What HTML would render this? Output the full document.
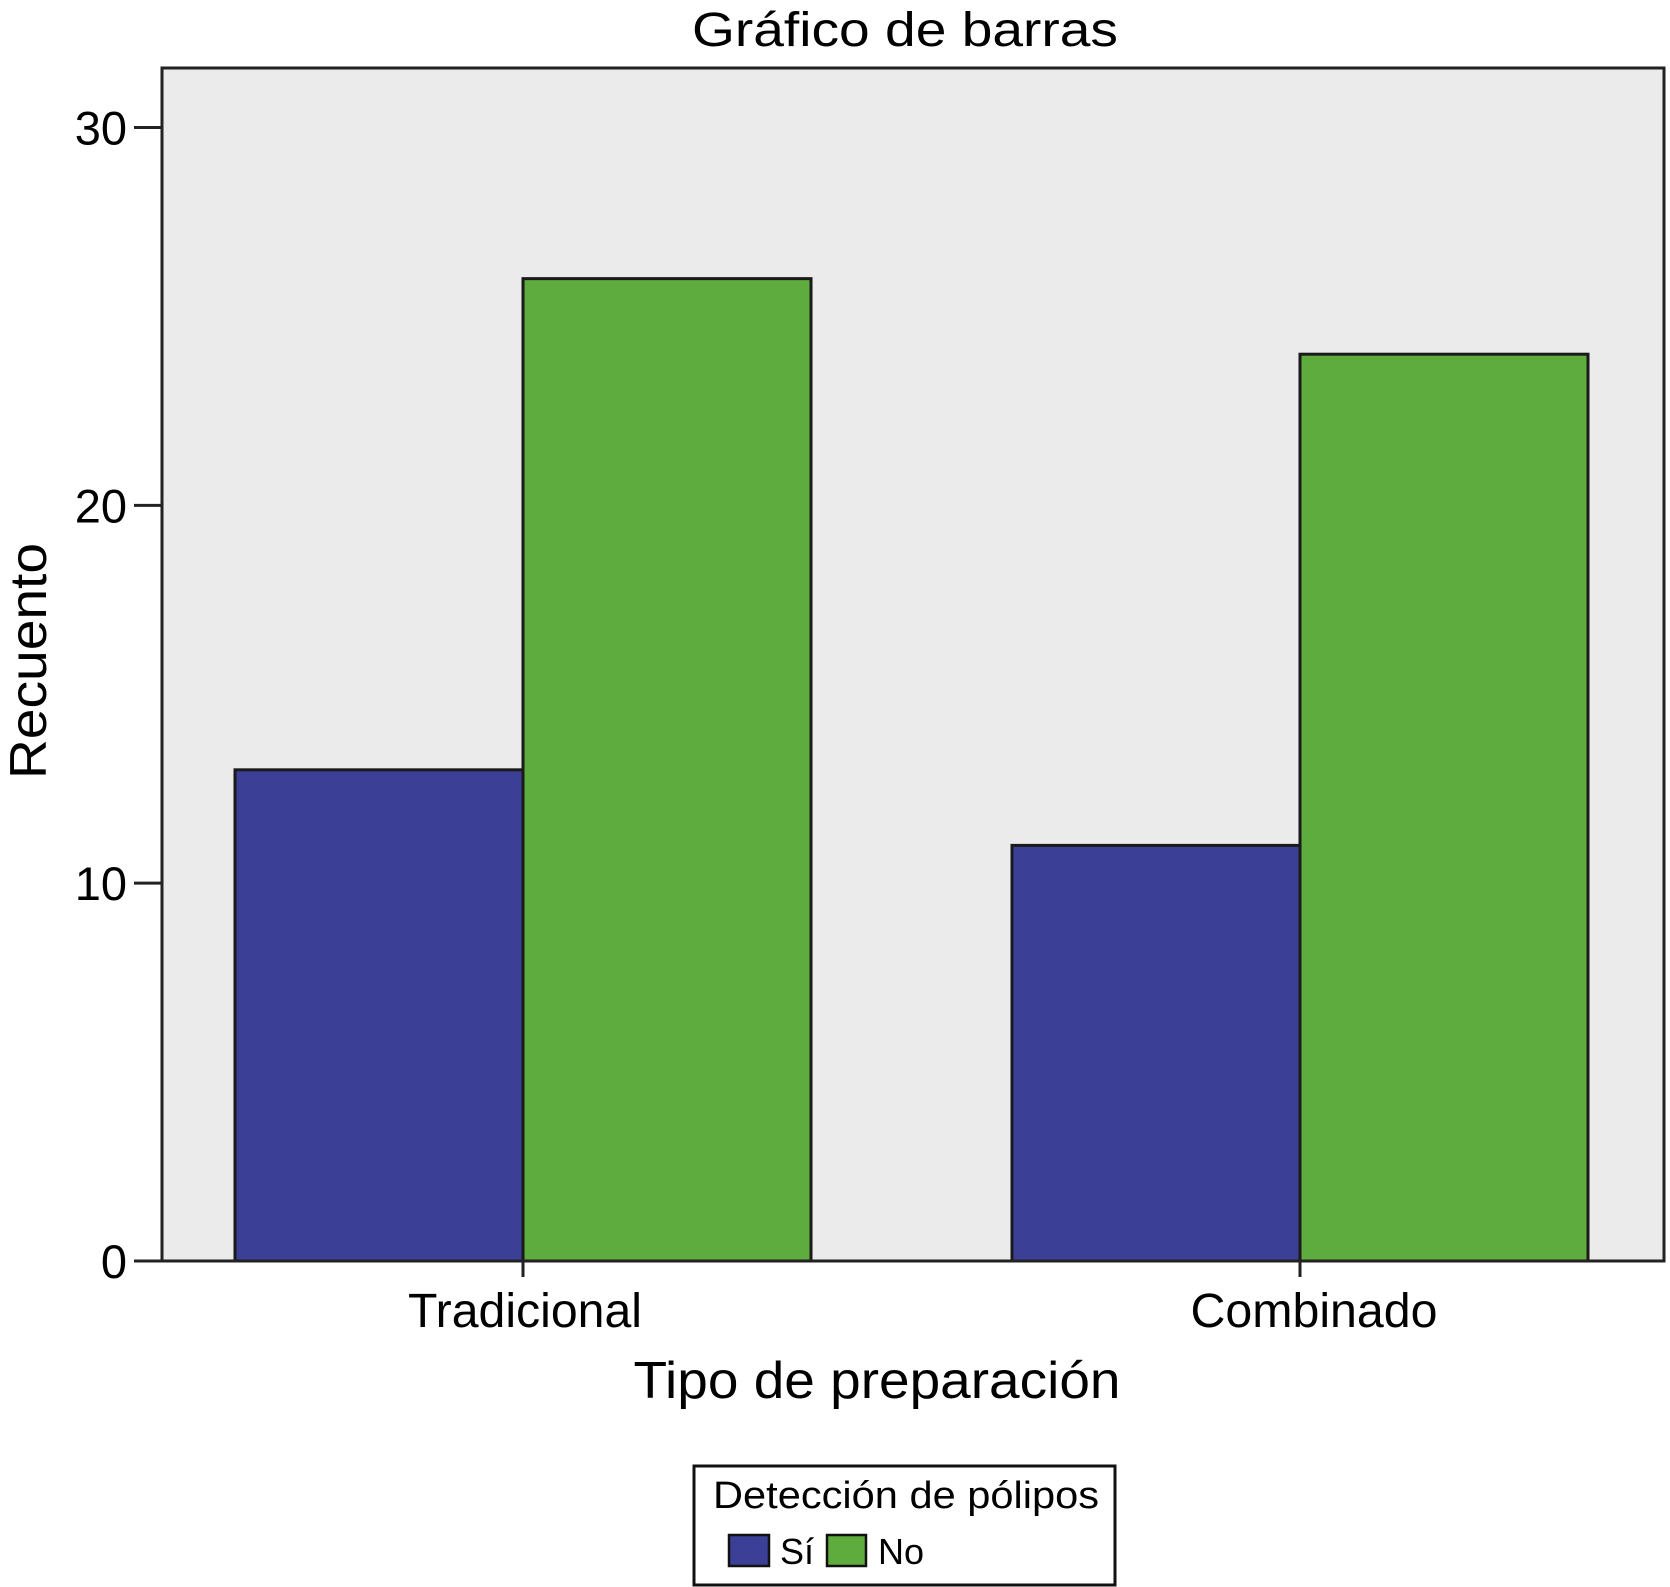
<!DOCTYPE html>
<html><head><meta charset="utf-8"><style>
html,body{margin:0;padding:0;background:#fff;}
svg{display:block;font-family:"Liberation Sans",Arial,sans-serif;}
</style></head><body>
<svg id="chart" width="1670" height="1587" viewBox="0 0 1670 1587">
<text x="905" y="46" font-size="48" text-anchor="middle" textLength="426" lengthAdjust="spacingAndGlyphs">Gráfico de barras</text>
<rect x="162" y="68" width="1502" height="1193" fill="#ebebeb" stroke="#222" stroke-width="3"/>
<g id="yaxis"></g>
<g id="bars"></g>
<g id="xaxis"></g>
<text transform="translate(46,661) rotate(-90)" font-size="52" text-anchor="middle" textLength="236" lengthAdjust="spacingAndGlyphs">Recuento</text>
<text x="877" y="1398" font-size="52" text-anchor="middle" textLength="487" lengthAdjust="spacingAndGlyphs">Tipo de preparación</text>
<g>
<rect x="694" y="1466" width="421" height="119" fill="#fff" stroke="#111" stroke-width="3"/>
<text x="906" y="1508" font-size="38" text-anchor="middle" textLength="386" lengthAdjust="spacingAndGlyphs">Detección de pólipos</text>
<rect x="729" y="1535" width="40" height="31" fill="#3c3f96" stroke="#111" stroke-width="2.5"/>
<text x="780" y="1564" font-size="36">Sí</text>
<rect x="827" y="1535" width="39" height="31" fill="#5fac3e" stroke="#111" stroke-width="2.5"/>
<text x="878" y="1564" font-size="36">No</text>
</g>
</svg>
<script>
const categories = ["Tradicional", "Combinado"];
const seriesSi = [13, 11];
const seriesNo = [26, 24];
const yTicks = [0, 10, 20, 30];

const NS = "http://www.w3.org/2000/svg";
const y0 = 1261, pxPerUnit = (1261 - 127.5) / 30;
function yScale(v){ return y0 - v * pxPerUnit; }
const catCenters = [523, 1300];
function xScale(i){ return catCenters[0] + i * (catCenters[1] - catCenters[0]); }
const barW = 288;

const ya = document.getElementById('yaxis');
yTicks.forEach(t => {
  const y = yScale(t);
  const l = document.createElementNS(NS, 'line');
  l.setAttribute('x1', 134); l.setAttribute('x2', 162);
  l.setAttribute('y1', y); l.setAttribute('y2', y);
  l.setAttribute('stroke', '#222'); l.setAttribute('stroke-width', 3);
  
  
  ya.appendChild(l);
  const tx = document.createElementNS(NS, 'text');
  tx.setAttribute('x', 127); tx.setAttribute('y', y + 17);
  tx.setAttribute('font-size', 47); tx.setAttribute('text-anchor', 'end');
  tx.textContent = t;
  
  
  ya.appendChild(tx);
});

const bg = document.getElementById('bars');
function bar(x, v, fill, name){
  const r = document.createElementNS(NS, 'rect');
  r.setAttribute('x', x); r.setAttribute('y', yScale(v));
  r.setAttribute('width', barW); r.setAttribute('height', y0 - yScale(v));
  r.setAttribute('fill', fill); r.setAttribute('stroke', '#1a1a1a'); r.setAttribute('stroke-width', 3);
  
  
  bg.appendChild(r);
}
categories.forEach((c, i) => {
  const cx = xScale(i);
  bar(cx - barW, seriesSi[i], '#3c3f96', 'bar-si-' + c.toLowerCase());
  bar(cx, seriesNo[i], '#5fac3e', 'bar-no-' + c.toLowerCase());
});

const xa = document.getElementById('xaxis');
const ax = document.createElementNS(NS, 'line');
ax.setAttribute('x1', 162); ax.setAttribute('x2', 1664);
ax.setAttribute('y1', y0); ax.setAttribute('y2', y0);
ax.setAttribute('stroke', '#222'); ax.setAttribute('stroke-width', 3);


xa.appendChild(ax);
const labelWidths = [234, 247];
categories.forEach((c, i) => {
  const cx = xScale(i);
  const l = document.createElementNS(NS, 'line');
  l.setAttribute('x1', cx); l.setAttribute('x2', cx);
  l.setAttribute('y1', y0); l.setAttribute('y2', 1277);
  l.setAttribute('stroke', '#222'); l.setAttribute('stroke-width', 3);
  
  
  xa.appendChild(l);
  const tx = document.createElementNS(NS, 'text');
  tx.setAttribute('x', cx + (i === 0 ? 2 : 14)); tx.setAttribute('y', 1327);
  tx.setAttribute('font-size', 48); tx.setAttribute('text-anchor', 'middle');
  tx.setAttribute('textLength', labelWidths[i]); tx.setAttribute('lengthAdjust', 'spacingAndGlyphs');
  tx.textContent = c;
  
  
  xa.appendChild(tx);
});
</script>
</body></html>
